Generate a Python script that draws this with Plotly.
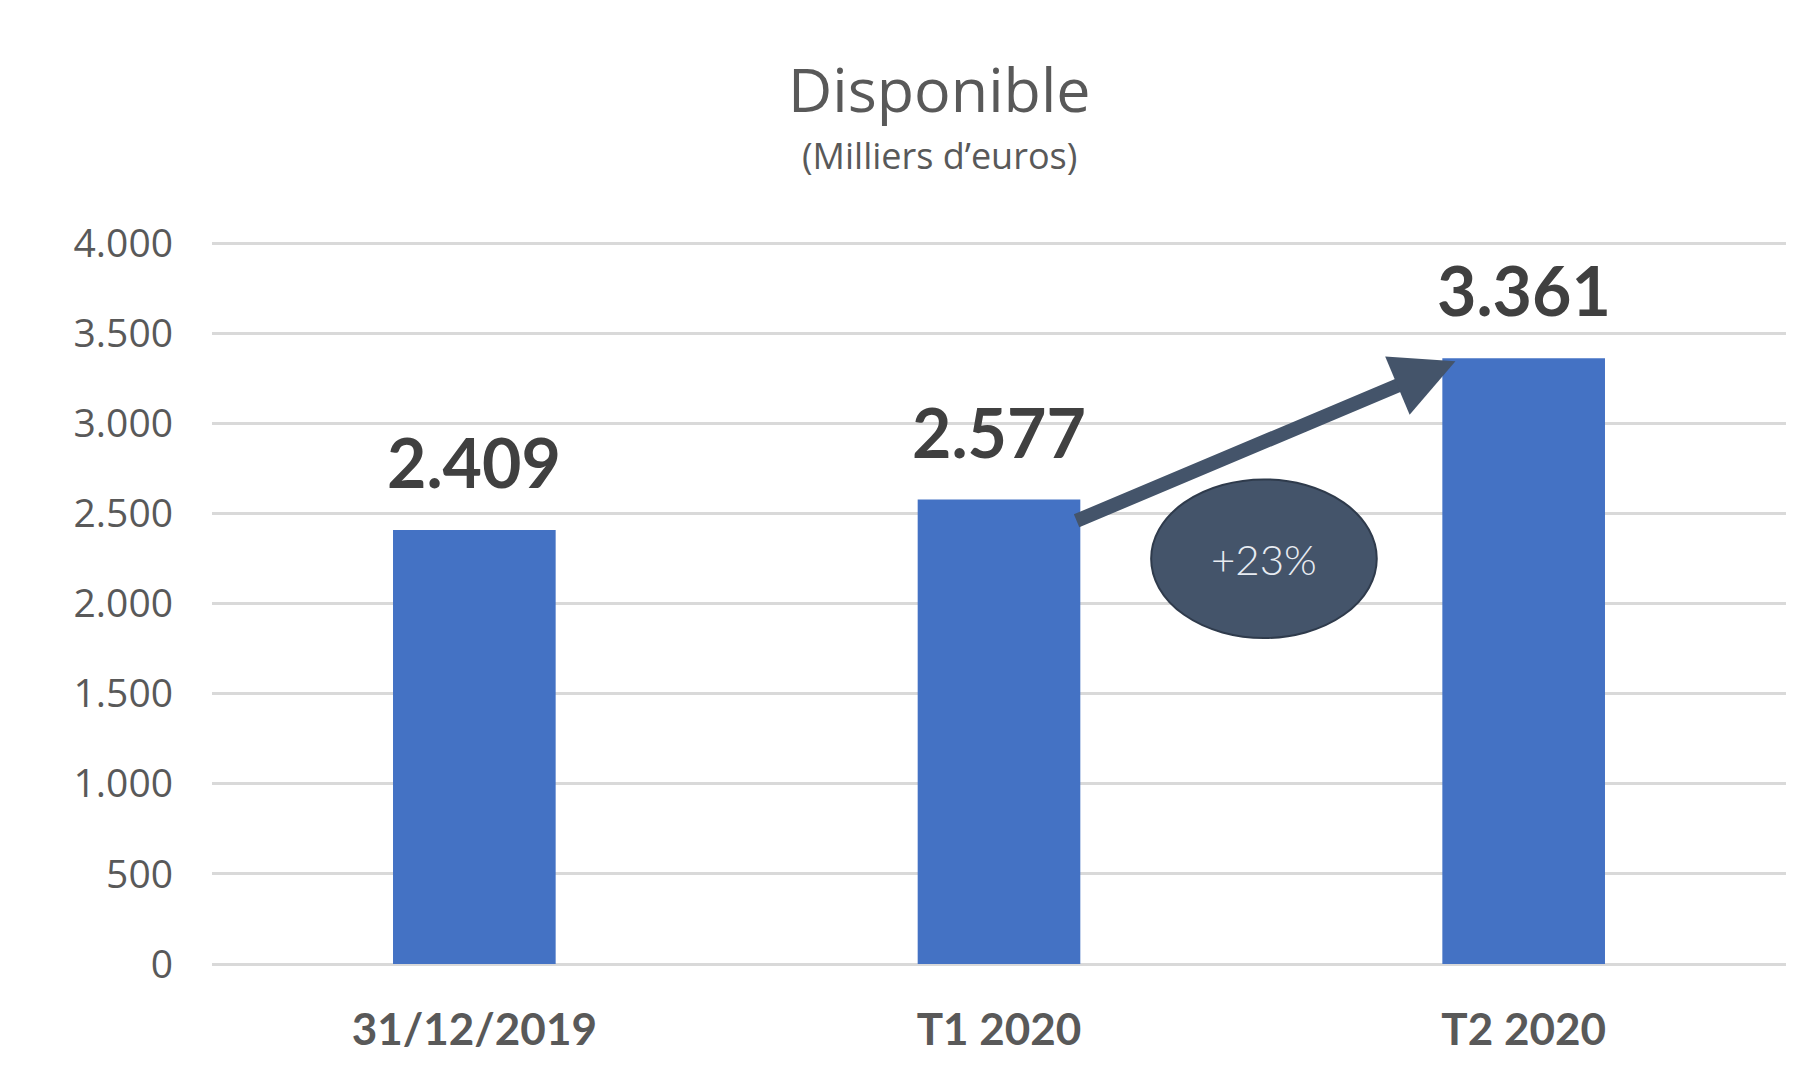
import plotly.graph_objects as go

categories = ["31/12/2019", "T1 2020", "T2 2020"]
values = [2409, 2577, 3361]
value_labels = ["2.409", "2.577", "3.361"]
tick_vals = [0, 500, 1000, 1500, 2000, 2500, 3000, 3500, 4000]
tick_text = ["0", "500", "1.000", "1.500", "2.000", "2.500", "3.000", "3.500", "4.000"]
growth_label = "+23%"

W, H = 1799, 1077
fig = go.Figure()
fig.add_trace(go.Bar(
    x=categories, y=values, marker=dict(color="#4472C4", line=dict(width=0)),
    hoverinfo="skip", showlegend=False,
))

for c, v, t in zip(categories, values, value_labels):
    fig.add_annotation(x=c, y=v, text=f"<b>{t}</b>", showarrow=False,
                       yanchor="bottom", yshift=26,
                       font=dict(family="Lato", size=68, color="#404040"))

# growth ellipse
fig.add_shape(type="circle", xref="x", yref="y",
              x0=1.29, x1=1.72, y0=1809, y1=2689,
              fillcolor="#44546A", line=dict(color="#2F3B4C", width=2), layer="above")
fig.add_annotation(x=1.505, y=2249, text=growth_label, showarrow=False,
                   font=dict(family="Lato", size=42, color="#E8ECF2", weight=300))

# arrow
fig.add_annotation(x=1.87, y=3345, ax=1.145, ay=2456, xref="x", yref="y",
                   axref="x", ayref="y", text="", showarrow=True,
                   arrowhead=2, arrowsize=0.9, arrowwidth=14, arrowcolor="#44546A")

# title
title_x = (939 - 212) / 1574
fig.add_annotation(xref="paper", yref="paper", x=title_x, y=1, xanchor="center", yanchor="middle",
                   text="Disponible", showarrow=False, yshift=(241 - 88),
                   font=dict(family="Open Sans", size=61, color="#595959"))
fig.add_annotation(xref="paper", yref="paper", x=title_x, y=1, xanchor="center", yanchor="middle",
                   text="(Milliers d’euros)", showarrow=False, yshift=(241 - 155),
                   font=dict(family="Open Sans", size=36, color="#595959"))

fig.update_layout(
    width=W, height=H,
    margin=dict(l=204, r=21, t=233, b=121, autoexpand=False),
    paper_bgcolor="white", plot_bgcolor="white",
    bargap=0.69,
    xaxis=dict(type="category", range=[-0.5, 2.5], showgrid=False, zeroline=False,
               showline=False, ticks="", automargin=False,
               tickfont=dict(family="Lato", size=44, color="#595959"),
               ticklabelstandoff=36),
    yaxis=dict(range=[0, 4012], tickvals=tick_vals, ticktext=tick_text,
               showgrid=True, gridcolor="#D9D9D9", gridwidth=3,
               zeroline=True, zerolinecolor="#D9D9D9", zerolinewidth=3,
               showline=False, ticks="", automargin=False,
               tickfont=dict(family="Open Sans", size=39, color="#595959"),
               ticklabelstandoff=38),
)
fig.update_xaxes(tickprefix="<b>", ticksuffix="</b>")

fig.write_html("out.html")
